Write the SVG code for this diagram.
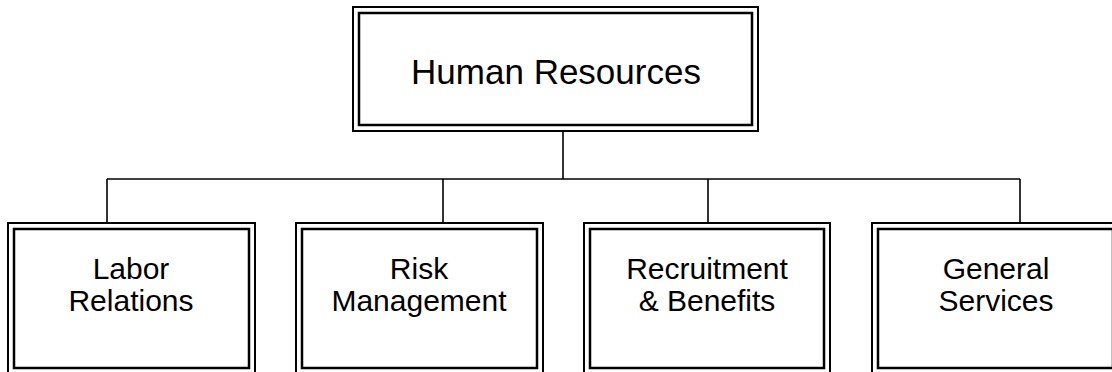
<svg xmlns="http://www.w3.org/2000/svg" width="1112" height="372" viewBox="0 0 1112 372">
<style>
.o{fill:#fff;stroke:#000;stroke-width:2}
.i{fill:none;stroke:#000;stroke-width:2.5}
.t{font-family:"Liberation Sans",Arial,sans-serif;fill:#000;text-anchor:middle}
.c{fill:none;stroke:#000;stroke-width:1.6}
</style>
<rect width="1112" height="372" fill="#fff"/>
<g id="connectors">
<path class="c" d="M563 131V179M107 179H1020M107 179V223M443 179V223M708 179V223M1020 179V223"/>
</g>
<g id="hr">
<rect class="o" x="353" y="7" width="405" height="124"/>
<rect class="i" x="359" y="13" width="393" height="112"/>
<text class="t" x="556" y="84" font-size="35">Human Resources</text>
</g>
<g id="labor">
<rect class="o" x="8" y="223" width="247" height="151"/>
<rect class="i" x="14" y="229" width="235" height="139"/>
<text class="t" font-size="30"><tspan x="131" y="279">Labor</tspan><tspan x="131" y="311">Relations</tspan></text>
</g>
<g id="risk">
<rect class="o" x="296" y="223" width="247" height="151"/>
<rect class="i" x="302" y="229" width="235" height="139"/>
<text class="t" font-size="30"><tspan x="419" y="279">Risk</tspan><tspan x="419" y="311">Management</tspan></text>
</g>
<g id="recruitment">
<rect class="o" x="584" y="223" width="246" height="151"/>
<rect class="i" x="590" y="229" width="234" height="139"/>
<text class="t" font-size="30"><tspan x="707" y="279">Recruitment</tspan><tspan x="707" y="311">&amp; Benefits</tspan></text>
</g>
<g id="general">
<rect class="o" x="872" y="223" width="247" height="151"/>
<rect class="i" x="878" y="229" width="235" height="139"/>
<text class="t" font-size="30"><tspan x="996" y="279">General</tspan><tspan x="996" y="311">Services</tspan></text>
</g>
</svg>
